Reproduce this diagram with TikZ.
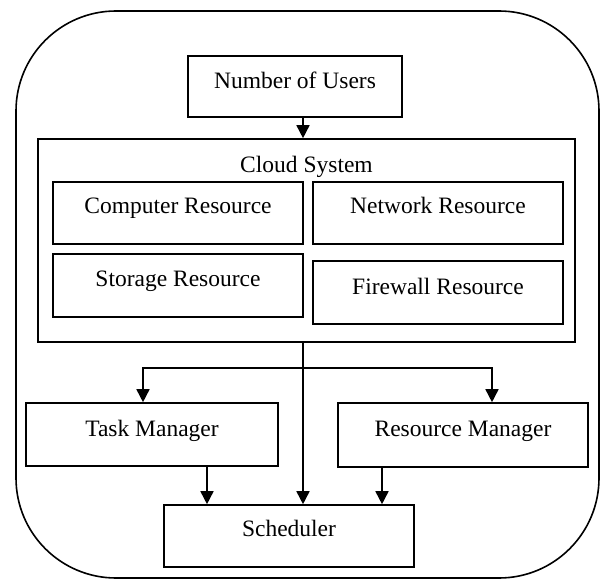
\documentclass[tikz,border=0pt]{standalone}
\usepackage{fontspec}
\setmainfont{Liberation Serif}
\usetikzlibrary{arrows.meta}
\tikzset{
  every node/.style={font=\fontsize{23.5}{27}\selectfont, inner sep=0pt},
  box/.style={draw, line width=1.6pt, text height=16pt, text depth=15pt},
  arr/.style={line width=1.6pt, -{Triangle[width=13pt,length=13pt]}},
  ln/.style={line width=1.6pt}
}
\begin{document}
\begin{tikzpicture}[x=1pt,y=-1pt]
\useasboundingbox (0,0) rectangle (602,580);
\draw[line width=1.6pt, rounded corners=100pt] (16,11) rectangle (599,578);

\node[box, minimum width=214pt, minimum height=61pt, text depth=11pt] (nou) at (295,86.5) {Number of Users};
\node[box, minimum width=537pt, minimum height=203pt] (cloud) at (306.5,240.5) {};
\node (cloudlbl) at (306.5,167) {Cloud System};
\node[box, minimum width=250pt, minimum height=62pt] (comp) at (178,213) {Computer Resource};
\node[box, minimum width=250.5pt, minimum height=62pt] (net) at (438,213) {Network Resource};
\node[box, minimum width=250pt, minimum height=63pt] (stor) at (178,285.5) {Storage Resource};
\node[box, minimum width=250.5pt, minimum height=63pt, text depth=13pt] (fire) at (438,292.5) {Firewall Resource};
\node[box, minimum width=252pt, minimum height=63pt, text depth=13pt] (tm) at (152,434.5) {Task Manager};
\node[box, minimum width=250pt, minimum height=64pt, text depth=13pt] (rm) at (463,435) {Resource Manager};
\node[box, minimum width=250pt, minimum height=62pt] (sched) at (289,536) {Scheduler};

\coordinate (j) at (303,368);
\coordinate (jl) at (143,368);
\coordinate (jr) at (492,368);
\coordinate (tmx) at (207,0);
\coordinate (rmx) at (382,0);

\draw[arr] (j |- nou.south) -- (j |- cloud.north);
\draw[arr] (j |- cloud.south) -- (j |- sched.north);
\draw[arr] (j) -- (jl) -- (jl |- tm.north);
\draw[arr] (j) -- (jr) -- (jr |- rm.north);
\draw[arr] (tmx |- tm.south) -- (tmx |- sched.north);
\draw[arr] (rmx |- rm.south) -- (rmx |- sched.north);
\end{tikzpicture}
\end{document}
